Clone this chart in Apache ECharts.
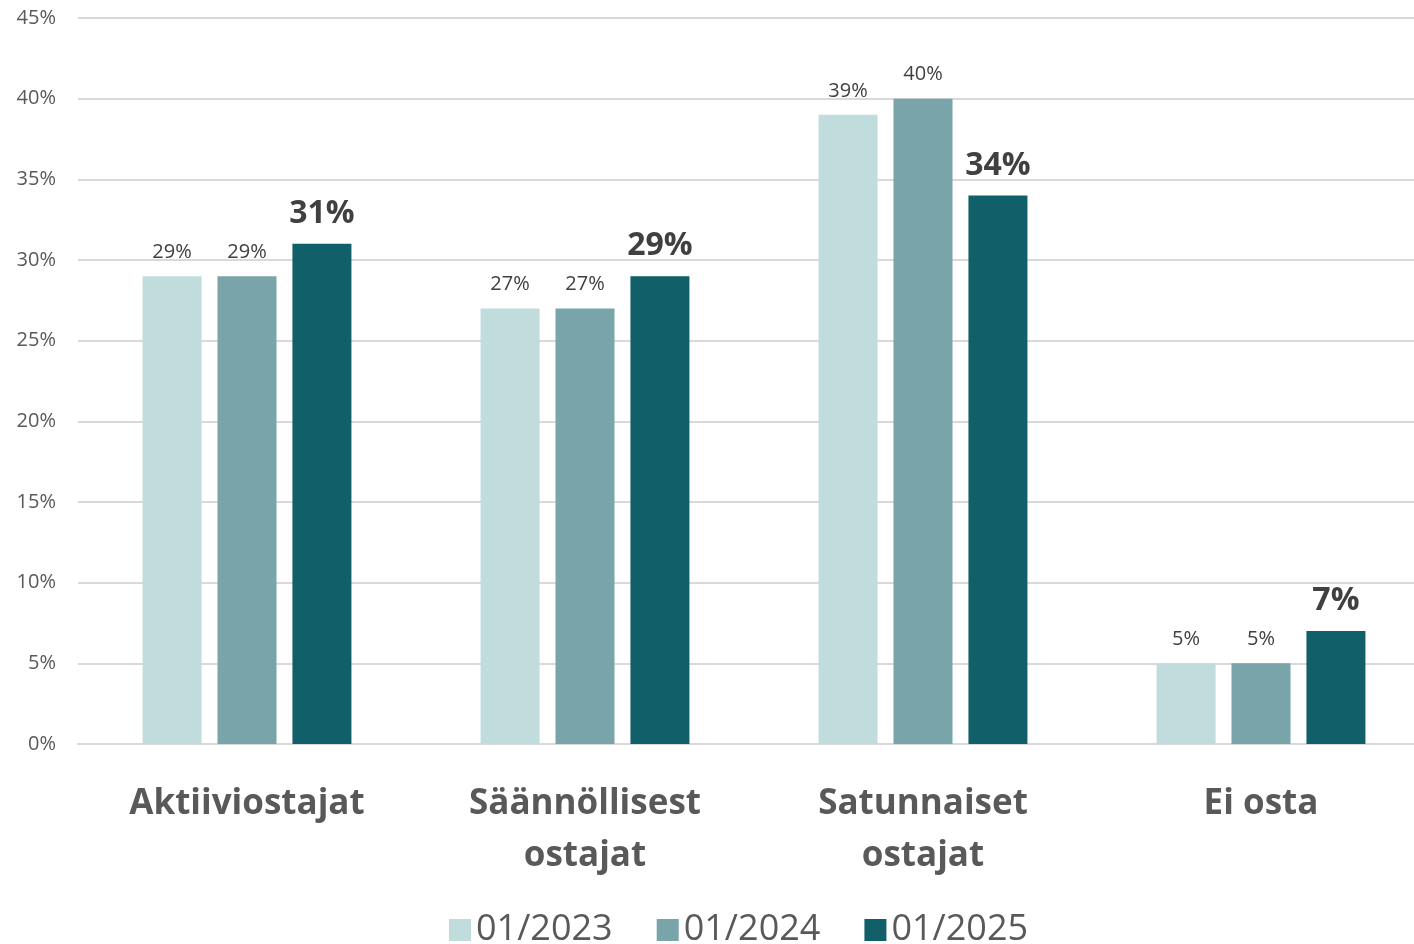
<!DOCTYPE html>
<html>
<head>
<meta charset="utf-8">
<script src="https://cdn.jsdelivr.net/npm/echarts@6/dist/echarts.min.js"></script>
<style>
  html, body { margin: 0; padding: 0; background: #fff; }
  #chart { width: 1414px; height: 944px; }
</style>
</head>
<body>
<div id="chart"></div>
<script>
// data
const categories = ['Aktiiviostajat', 'Säännöllisest\nostajat', 'Satunnaiset\nostajat', 'Ei osta'];
const seriesNames = ['01/2023', '01/2024', '01/2025'];
const values2023 = [29, 27, 39, 5];
const values2024 = [29, 27, 40, 5];
const values2025 = [31, 29, 34, 7];
const yTicks = [0, 5, 10, 15, 20, 25, 30, 35, 40, 45];

const colors = ['#C0DCDC', '#79A5AA', '#115F69'];
const font = '"Open Sans", "Noto Sans", sans-serif';

const chart = echarts.init(document.getElementById('chart'));

function smallLabel() {
    return {
        show: true,
        position: 'top',
        distance: 14,
        formatter: '{c}%',
        fontFamily: font,
        fontSize: 20,
        color: '#404040'
    };
}

const option = {
    animation: false,
    color: colors,
    grid: { left: 78, right: -16, top: 18, bottom: 200, outerBoundsMode: 'none' },
    legend: {
        bottom: -9,
        left: 444,
        itemWidth: 22,
        itemHeight: 22,
        itemGap: 44,
        icon: 'rect',
        textStyle: { fontFamily: font, fontSize: 36, color: '#595959' },
        data: seriesNames
    },
    xAxis: {
        type: 'category',
        data: categories,
        axisLine: { lineStyle: { color: '#d9d9d9', width: 2 } },
        axisTick: { show: false },
        axisLabel: {
            margin: 34,
            fontFamily: font,
            fontSize: 35,
            fontWeight: 'bold',
            color: '#595959',
            lineHeight: 52
        }
    },
    yAxis: {
        type: 'value',
        min: 0,
        max: 45,
        interval: 5,
        axisLine: { show: false },
        axisTick: { show: false },
        splitLine: { lineStyle: { color: '#d9d9d9', width: 2 } },
        axisLabel: {
            margin: 22,
            fontFamily: font,
            fontSize: 20,
            color: '#595959',
            formatter: function (v) { return yTicks.indexOf(v) >= 0 ? v + '%' : ''; }
        }
    },
    series: [
        {
            name: seriesNames[0],
            type: 'bar',
            data: values2023,
            barWidth: 59,
            barGap: '27%',
            label: smallLabel()
        },
        {
            name: seriesNames[1],
            type: 'bar',
            data: values2024,
            barWidth: 59,
            barGap: '27%',
            label: smallLabel()
        },
        {
            name: seriesNames[2],
            type: 'bar',
            data: values2025,
            barWidth: 59,
            barGap: '27%',
            label: {
                show: true,
                position: 'top',
                distance: 14,
                formatter: '{c}%',
                fontFamily: font,
                fontSize: 32,
                fontWeight: 'bold',
                color: '#404040'
            }
        }
    ]
};

chart.setOption(option);
</script>
</body>
</html>
